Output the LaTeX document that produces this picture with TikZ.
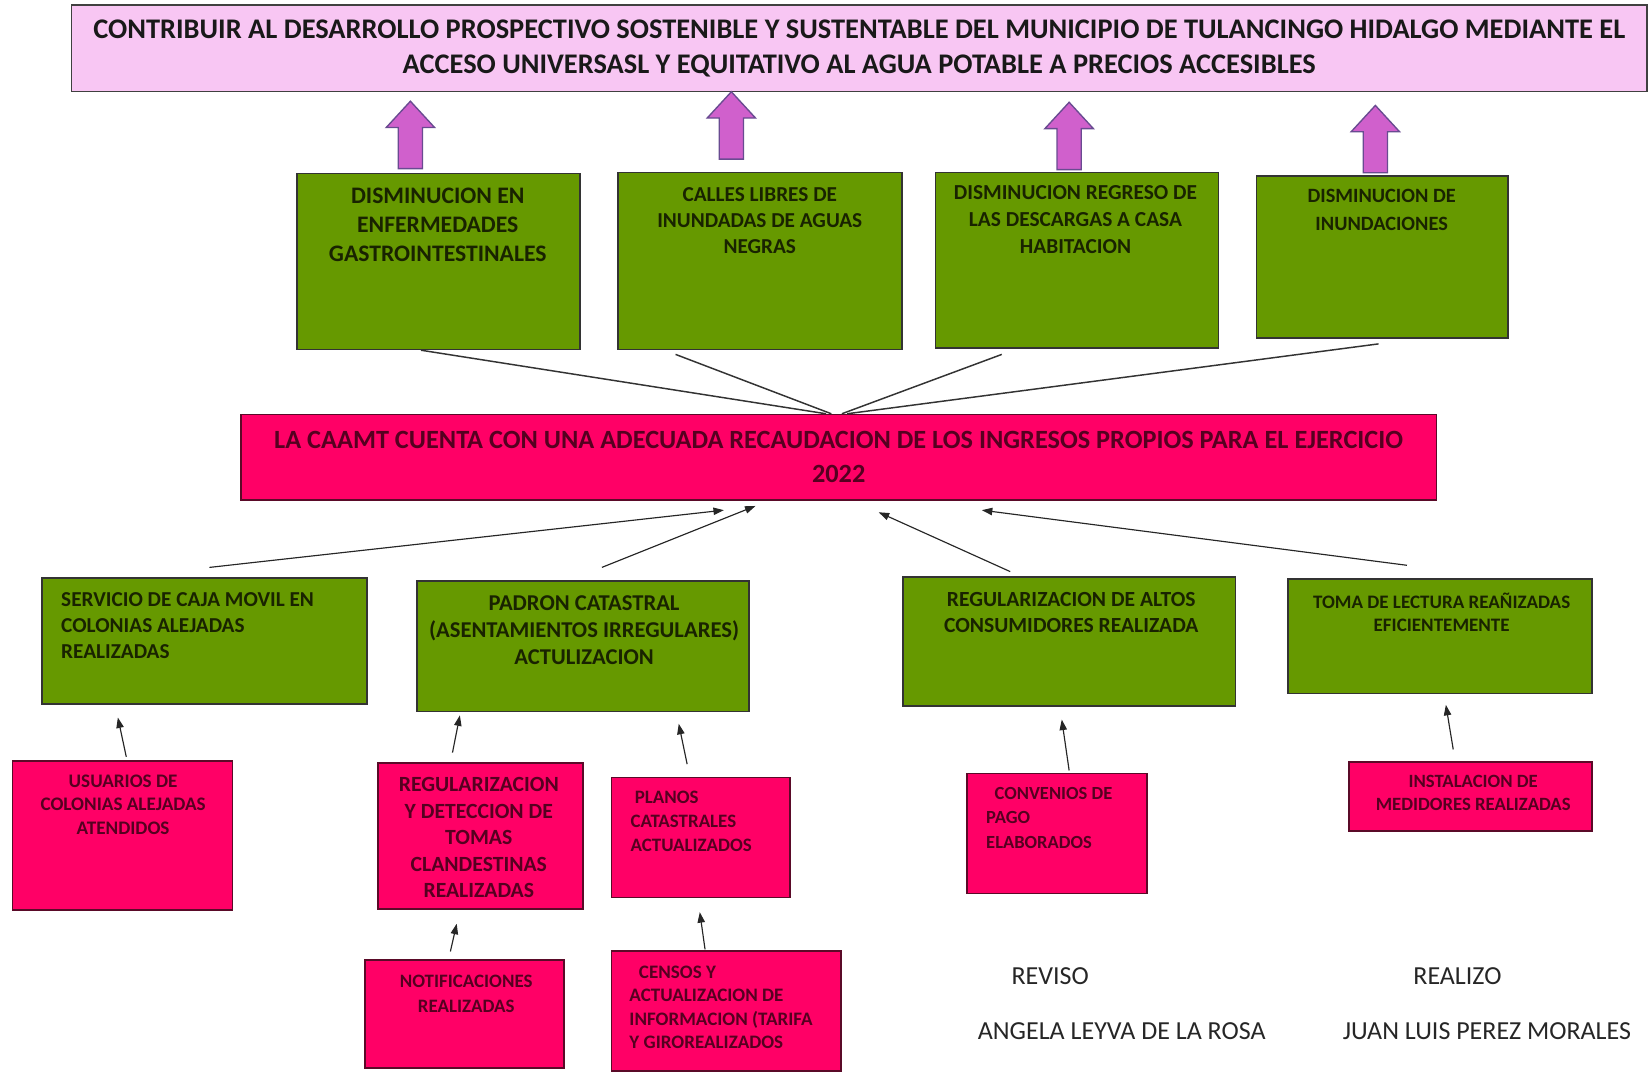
\documentclass[tikz,border=0pt]{standalone}
\usepackage{fontspec}
\setmainfont{Carlito}
\usetikzlibrary{arrows.meta}
\definecolor{bannerfill}{RGB}{248,198,243}
\definecolor{gfill}{RGB}{102,153,0}
\definecolor{pfill}{RGB}{255,0,102}
\definecolor{afill}{RGB}{208,96,204}
\definecolor{aedge}{RGB}{105,75,145}
\definecolor{ptext}{RGB}{85,0,32}
\definecolor{gtext}{RGB}{25,35,0}
\definecolor{pedge}{RGB}{90,10,40}
\begin{document}
\begin{tikzpicture}[x=1pt,y=-1pt,
  box/.style={draw, line width=1.6pt, inner sep=0pt},
  bannerbox/.style={box, fill=bannerfill, draw=black!75, align=center, text=black!90,
    font=\bfseries\fontsize{27}{34}\selectfont},
  gbox/.style={box, fill=gfill, draw=black!80},
  pbox/.style={box, fill=pfill, draw=pedge},
  cbox/.style={box, fill=pfill, draw=pedge, align=center, text=ptext,
    font=\bfseries\fontsize{25}{32}\selectfont},
  gtxt/.style={anchor=north, align=center, inner sep=0pt, text=gtext},
  gltxt/.style={anchor=north west, align=left, inner sep=0pt, text=gtext},
  ptxt/.style={anchor=north, align=center, inner sep=0pt, text=ptext},
  pltxt/.style={anchor=north west, align=left, inner sep=0pt, text=ptext},
  sig/.style={inner sep=0pt, text=black!85, font=\fontsize{24.7}{28}\selectfont},
  fatstyle/.style={fill=afill, draw=aedge, line width=1.3pt, line join=miter},
  fatup/.pic={\draw[fatstyle] (-11.5pt,0pt) -- (-11.5pt,39pt) -- (-23pt,39pt) -- (0pt,64pt)
     -- (23pt,39pt) -- (11.5pt,39pt) -- (11.5pt,0pt) -- cycle;},
  link/.style={draw=black!80, line width=1.4pt},
  arr/.style={draw=black!85, line width=1.1pt, -{Triangle[length=10pt,width=7pt]}}
]
\useasboundingbox (0,0) rectangle (1568,1018.7);

% goal banner
\node[bannerbox, minimum width=1497, minimum height=82] (goal) at (816.5,46)
  {CONTRIBUIR AL DESARROLLO PROSPECTIVO SOSTENIBLE Y SUSTENTABLE DEL MUNICIPIO DE TULANCINGO HIDALGO MEDIANTE EL\\
   ACCESO UNIVERSASL Y EQUITATIVO AL AGUA POTABLE A PRECIOS ACCESIBLES};

% top green boxes
\node[gbox, minimum width=269, minimum height=167] (g1) at (416.5,248.5) {};
\node[gbox, minimum width=270, minimum height=168] (g2) at (722,248) {};
\node[gbox, minimum width=269, minimum height=167] (g3) at (1023.5,247.5) {};
\node[gbox, minimum width=239, minimum height=154] (g4) at (1313.5,244) {};
\node[gtxt, font=\bfseries\fontsize{22.5}{27.5}\selectfont] (g1t) at (416,178.8)
  {DISMINUCION EN\\ENFERMEDADES\\GASTROINTESTINALES};
\node[gtxt, font=\bfseries\fontsize{20.2}{24.5}\selectfont] (g2t) at (722,178.5)
  {CALLES LIBRES DE\\INUNDADAS DE AGUAS\\NEGRAS};
\node[gtxt, font=\bfseries\fontsize{20.3}{25.5}\selectfont] (g3t) at (1022,176.5)
  {DISMINUCION REGRESO DE\\LAS DESCARGAS A CASA\\HABITACION};
\node[gtxt, font=\bfseries\fontsize{19.3}{26}\selectfont] (g4t) at (1313,179.8)
  {DISMINUCION DE\\INUNDACIONES};

% fat arrows
\pic at ([xshift=-26.5pt,yshift=4pt]g1.north) {fatup};
\pic at ([xshift=-27pt,yshift=12pt]g2.north) {fatup};
\pic at ([xshift=-7.5pt,yshift=2pt]g3.north) {fatup};
\pic at ([xshift=-6.5pt,yshift=2pt]g4.north) {fatup};

% central box
\node[cbox, minimum width=1136, minimum height=81] (c) at (797,434.5)
  {LA CAAMT CUENTA CON UNA ADECUADA RECAUDACION DE LOS INGRESOS PROPIOS PARA EL EJERCICIO\\2022};

\draw[link] ([xshift=-16.5pt]g1.south) -- ([xshift=-12pt]c.north);
\draw[link] ([xshift=-80pt,yshift=-4pt]g2.south) -- ([xshift=-7pt]c.north);
\draw[link] ([xshift=-71.5pt,yshift=-5pt]g3.south) -- ([xshift=3pt]c.north);
\draw[link] ([xshift=-3.5pt,yshift=-5pt]g4.south) -- ([xshift=8pt]c.north);

% bottom green boxes
\node[gbox, minimum width=309, minimum height=120] (b1) at (194.5,609) {};
\node[gbox, minimum width=316, minimum height=124] (b2) at (554,614) {};
\node[gbox, minimum width=316, minimum height=123] (b3) at (1016,609.5) {};
\node[gbox, minimum width=289, minimum height=109] (b4) at (1368.5,604.5) {};
\node[gltxt, font=\bfseries\fontsize{20.2}{25}\selectfont] (b1t) at (58,562.5)
  {SERVICIO DE CAJA MOVIL EN\\COLONIAS ALEJADAS\\REALIZADAS};
\node[gtxt, font=\bfseries\fontsize{21.5}{25.5}\selectfont] (b2t) at (555,566)
  {PADRON CATASTRAL\\(ASENTAMIENTOS IRREGULARES)\\ACTULIZACION};
\node[gtxt, font=\bfseries\fontsize{20.5}{25}\selectfont] (b3t) at (1018,562.4)
  {REGULARIZACION DE ALTOS\\CONSUMIDORES REALIZADA};
\node[gtxt, font=\bfseries\fontsize{18.1}{22}\selectfont] (b4t) at (1370,563.2)
  {TOMA DE LECTURA REAÑIZADAS\\EFICIENTEMENTE};

\draw[arr] ([xshift=4.5pt,yshift=9pt]b1.north) -- ([xshift=-109pt,yshift=-9pt]c.south);
\draw[arr] ([xshift=18pt,yshift=12pt]b2.north) -- ([xshift=-79pt,yshift=-5pt]c.south);
\draw[arr] ([xshift=-56pt,yshift=4pt]b3.north) -- ([xshift=38pt,yshift=-11pt]c.south);
\draw[arr] ([xshift=-31.5pt,yshift=12pt]b4.north) -- ([xshift=136pt,yshift=-9pt]c.south);

% pink boxes
\node[pbox, minimum width=209, minimum height=142] (p1) at (116.5,794) {};
\node[pbox, minimum width=195, minimum height=139] (p2) at (456.5,794.5) {};
\node[pbox, minimum width=170, minimum height=114] (p3) at (666,796) {};
\node[pbox, minimum width=171, minimum height=114] (p4) at (1004.5,792) {};
\node[pbox, minimum width=231, minimum height=66] (p5) at (1397.5,757) {};
\node[pbox, minimum width=189, minimum height=103] (p6) at (441.5,963.5) {};
\node[pbox, minimum width=218, minimum height=114] (p7) at (690,961) {};

\node[ptxt, font=\bfseries\fontsize{18.2}{22.5}\selectfont] (p1t) at (117,736)
  {USUARIOS DE\\COLONIAS ALEJADAS\\ATENDIDOS};
\node[ptxt, font=\bfseries\fontsize{20.6}{25.3}\selectfont] (p2t) at (455,738.4)
  {REGULARIZACION\\Y DETECCION DE\\TOMAS\\CLANDESTINAS\\REALIZADAS};
\node[pltxt, font=\bfseries\fontsize{18}{22.5}\selectfont] (p3t) at (599,752)
  {\hspace{4pt}PLANOS\\CATASTRALES\\ACTUALIZADOS};
\node[pltxt, font=\bfseries\fontsize{17.6}{23}\selectfont] (p4t) at (937,748.3)
  {\hspace{8pt}CONVENIOS DE\\PAGO\\ELABORADOS};
\node[ptxt, font=\bfseries\fontsize{17.8}{22}\selectfont] (p5t) at (1400,736.3)
  {INSTALACION DE\\MEDIDORES REALIZADAS};
\node[ptxt, font=\bfseries\fontsize{18}{24}\selectfont] (p6t) at (443,926)
  {NOTIFICACIONES\\REALIZADAS};
\node[pltxt, font=\bfseries\fontsize{18.1}{22}\selectfont] (p7t) at (598,918)
  {\hspace{9pt}CENSOS Y\\ACTUALIZACION DE\\INFORMACION (TARIFA\\Y GIROREALIZADOS};

\draw[arr] ([xshift=3.5pt,yshift=3pt]p1.north) -- ([xshift=-82.5pt,yshift=-12pt]b1.south);
\draw[arr] ([xshift=-26.5pt,yshift=9pt]p2.north) -- ([xshift=-117pt,yshift=-3pt]b2.south);
\draw[arr] ([xshift=-13pt,yshift=12pt]p3.north) -- ([xshift=91pt,yshift=-11pt]b2.south);
\draw[arr] ([xshift=11.5pt,yshift=2pt]p4.north) -- ([xshift=-7pt,yshift=-12pt]b3.south);
\draw[arr] ([xshift=-16.5pt,yshift=11pt]p5.north) -- ([xshift=5.5pt,yshift=-10pt]b4.south);
\draw[arr] ([xshift=-13.5pt,yshift=7pt]p6.north) -- ([xshift=-22.5pt,yshift=-13pt]p2.south);
\draw[arr] ([xshift=-20pt,yshift=1pt]p7.north) -- ([xshift=-1pt,yshift=-13pt]p3.south);

% signatures
\node[sig] (rev) at (998,928) {REVISO};
\node[sig] (revn) at (1066,980) {ANGELA LEYVA DE LA ROSA};
\node[sig] (rea) at (1385,928) {REALIZO};
\node[sig] (rean) at (1413,980) {JUAN LUIS PEREZ MORALES};
\end{tikzpicture}
\end{document}
